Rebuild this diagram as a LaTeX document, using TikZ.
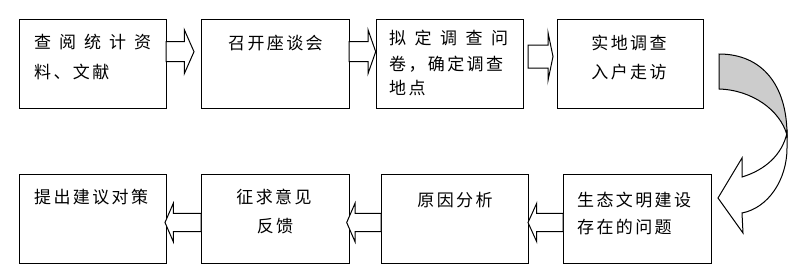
\documentclass[tikz,border=0pt]{standalone}
\usepackage{fontspec}
\newfontfamily\cjk[LetterSpace=14]{Noto Sans CJK SC}
\usetikzlibrary{calc}
\definecolor{bandgray}{RGB}{204,204,204}
\newcommand\myrarrow[6]{\draw[blk] (#1,#4-#5) -- (#2,#4-#5) -- (#2,#4-#6) -- (#3,#4) -- (#2,#4+#6) -- (#2,#4+#5) -- (#1,#4+#5) -- cycle;}
\begin{document}
\begin{tikzpicture}[x=1pt,y=-1pt,
  box/.style={draw=black,line width=1pt,fill=white,minimum height=88.7pt,inner sep=0pt},
  txt/.style={inner sep=0pt,font=\cjk\fontsize{17}{20}\selectfont},
  blk/.style={draw=black,line width=1pt,fill=white,line join=miter},
  band/.style={draw=black,line width=1pt,line join=miter}]
\useasboundingbox (0,0) rectangle (801,279);
% boxes
\node[box,minimum width=146.7pt] (b1) at (92.7,63.7) {};
\node[box,minimum width=148pt]   (b2) at (275,63.7) {};
\node[box,minimum width=147pt]   (b3) at (449.5,63.7) {};
\node[box,minimum width=146pt]   (b4) at (630,63.7) {};
\node[box,minimum width=146.7pt] (b5) at (92.7,218.7) {};
\node[box,minimum width=148pt]   (b6) at (275,218.7) {};
\node[box,minimum width=147pt]   (b7) at (454.5,218.7) {};
\node[box,minimum width=148pt]   (b8) at (637,218.7) {};
% texts
\node[txt,anchor=west] (t1a) at (34,42.5) {\makebox[117pt][s]{查\hfill 阅\hfill 统\hfill 计\hfill 资}};
\node[txt,anchor=west] (t1b) at (34,72) {料、文献};
\node[txt] (t2) at (275.5,42.7) {召开座谈会};
\node[txt,anchor=west] (t3a) at (389,38.3) {\makebox[119pt][s]{拟\hfill 定\hfill 调\hfill 查\hfill 问}};
\node[txt,anchor=west] (t3b) at (389,64) {卷，确定调查};
\node[txt,anchor=west] (t3c) at (389,88.5) {地点};
\node[txt] (t4a) at (629,43.3) {实地调查};
\node[txt] (t4b) at (629,71.7) {入户走访};
\node[txt,anchor=west] (t5) at (34,196.7) {提出建议对策};
\node[txt] (t6a) at (274,197) {征求意见};
\node[txt] (t6b) at (275,226) {反馈};
\node[txt] (t7) at (455,200) {原因分析};
\node[txt,anchor=west] (t8a) at (577,200) {生态文明建设};
\node[txt,anchor=west] (t8b) at (577,227.5) {存在的问题};
% block arrows, top row (pointing right)
\myrarrow{166}{184.3}{194}{51.7}{10}{22}
\myrarrow{349}{368}{375.7}{51.7}{10}{22}
\myrarrow{528}{548}{553}{56.5}{11.5}{24}
% block arrows, bottom row (pointing left)
\myrarrow{201}{173.3}{165}{222.5}{9.2}{19.2}
\myrarrow{381}{355}{346.7}{222.5}{9.2}{19.2}
\myrarrow{563}{536.7}{528}{222.5}{9.2}{19.2}
% curved arrow
\draw[band,fill=bandgray] (719,54) .. controls (762,54) and (787,85) .. (787,135)
  .. controls (780,110) and (752,90) .. (719,89) -- cycle;
\draw[band,fill=white] (787,133) -- (787,148) .. controls (787,180) and (768,208) .. (742,213)
  -- (743,233) -- (718,198) -- (742,158) -- (742,177)
  .. controls (765,170) and (782,155) .. (787,133) -- cycle;
\end{tikzpicture}
\end{document}
